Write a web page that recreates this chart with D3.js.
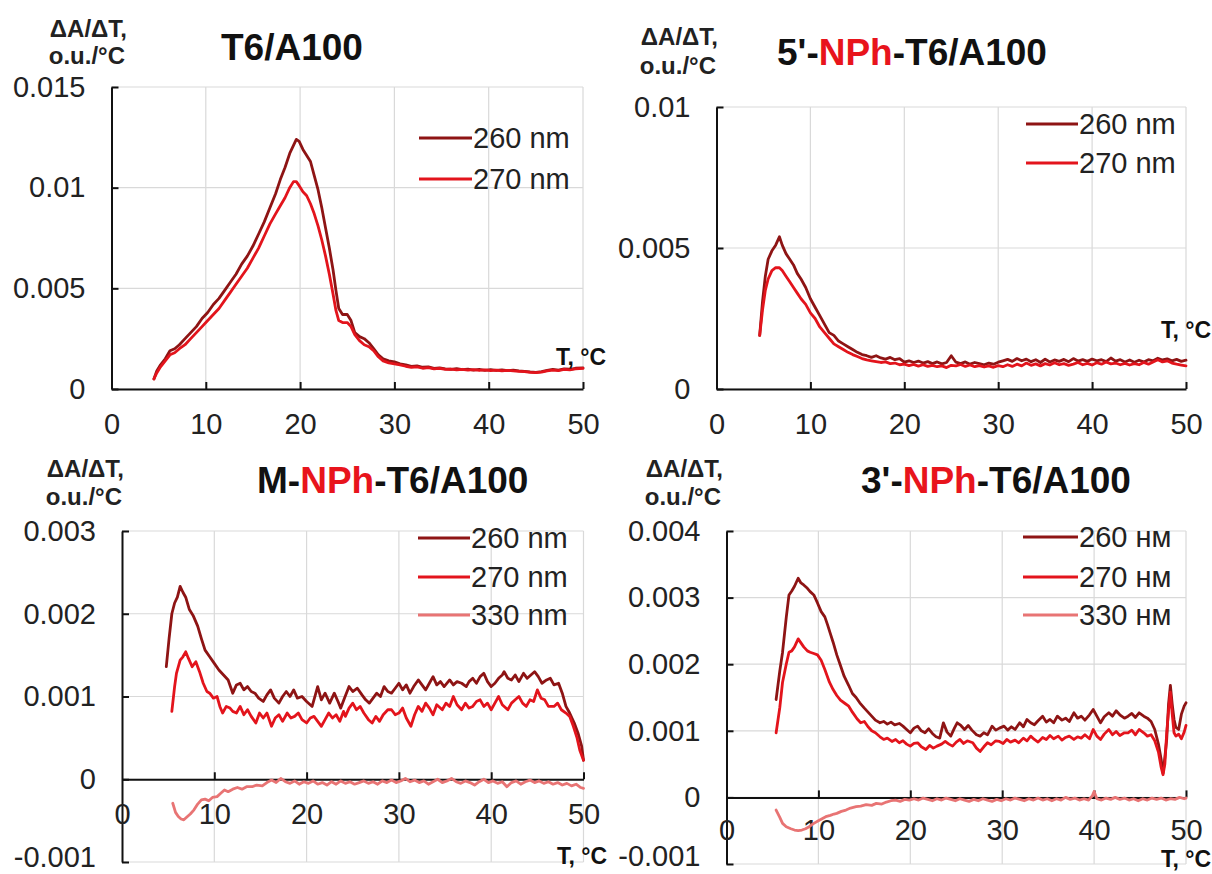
<!DOCTYPE html>
<html><head><meta charset="utf-8">
<script src="https://cdn.jsdelivr.net/npm/d3@7"></script>
<style>body{margin:0;background:#fff}svg{display:block}text{font-family:"Liberation Sans",Arial,sans-serif}</style>
</head><body>
<script>
// ---------- DATA ----------
const xTicks = [0, 10, 20, 30, 40, 50];
const xTickLabels = ["0", "10", "20", "30", "40", "50"];

const p1YTicks = [0, 0.005, 0.01, 0.015];
const p1YTickLabels = ["0", "0.005", "0.01", "0.015"];
const p2YTicks = [0, 0.005, 0.01];
const p2YTickLabels = ["0", "0.005", "0.01"];
const p3YTicks = [-0.001, 0, 0.001, 0.002, 0.003];
const p3YTickLabels = ["-0.001", "0", "0.001", "0.002", "0.003"];
const p4YTicks = [-0.001, 0, 0.001, 0.002, 0.003, 0.004];
const p4YTickLabels = ["-0.001", "0", "0.001", "0.002", "0.003", "0.004"];

const legendNm = ["260 nm", "270 nm", "330 nm"];
const legendNmRu = ["260 нм", "270 нм", "330 нм"];

const p1_260 = [[4.5,0.0005],[4.8,0.0009],[5.2,0.0012],[5.7,0.0015],[6.2,0.0019],[6.7,0.0020],[7.2,0.0022],[7.8,0.0025],[8.4,0.0028],[9.0,0.0031],[9.6,0.0035],[10.2,0.0038],[10.8,0.0042],[11.4,0.0045],[12.0,0.0049],[12.6,0.0053],[13.2,0.0057],[13.8,0.0062],[14.4,0.0066],[15.0,0.0071],[15.6,0.0077],[16.2,0.0083],[16.8,0.0090],[17.4,0.0097],[17.9,0.0104],[18.4,0.0110],[18.9,0.0117],[19.3,0.0121],[19.6,0.0124],[19.9,0.0123],[20.3,0.0119],[20.7,0.0116],[21.1,0.0113],[21.5,0.0106],[21.9,0.0099],[22.3,0.0090],[22.7,0.0080],[23.1,0.0070],[23.5,0.0059],[23.8,0.0049],[24.1,0.0040],[24.5,0.0037],[25.0,0.0037],[25.4,0.0034],[25.8,0.0028],[26.3,0.0026],[26.8,0.0025],[27.3,0.0023],[27.8,0.0020],[28.3,0.0017],[28.8,0.0015],[29.4,0.0014],[30,0.00135],[30.6,0.00125],[31.2,0.0012],[31.8,0.00112],[32.4,0.00115],[33,0.00108],[33.6,0.0011],[34.2,0.00102],[34.8,0.00105],[35.4,0.001],[36,0.00098],[36.6,0.00101],[37.2,0.00096],[37.8,0.00099],[38.4,0.00094],[39,0.00097],[39.6,0.00093],[40.2,0.00096],[40.8,0.00092],[41.4,0.00095],[42,0.00091],[42.6,0.00094],[43.2,0.0009],[43.8,0.00088],[44.4,0.00085],[45,0.00083],[45.6,0.00086],[46.2,0.00092],[46.8,0.00097],[47.4,0.00094],[48,0.001],[48.6,0.00098],[49.2,0.00103],[50,0.00105]];
const p1_270 = [[4.5,0.0005],[4.8,0.0008],[5.2,0.0011],[5.7,0.0014],[6.2,0.0017],[6.7,0.0018],[7.2,0.0020],[7.8,0.0022],[8.4,0.0025],[9.0,0.0028],[9.6,0.0031],[10.2,0.0034],[10.8,0.0037],[11.4,0.0040],[12.0,0.0044],[12.6,0.0048],[13.2,0.0052],[13.8,0.0056],[14.4,0.0060],[15.0,0.0065],[15.6,0.0070],[16.2,0.0076],[16.8,0.0082],[17.4,0.0087],[17.9,0.0091],[18.4,0.0095],[18.9,0.0100],[19.3,0.0103],[19.6,0.0103],[19.9,0.0101],[20.3,0.0098],[20.7,0.0096],[21.1,0.0092],[21.5,0.0087],[21.9,0.0081],[22.3,0.0074],[22.7,0.0066],[23.1,0.0057],[23.5,0.0047],[23.8,0.0039],[24.1,0.0034],[24.5,0.0033],[25.0,0.0033],[25.4,0.0031],[25.8,0.0027],[26.3,0.0024],[26.8,0.0022],[27.3,0.0021],[27.8,0.0019],[28.3,0.0016],[28.8,0.0014],[29.4,0.0013],[30,0.00125],[30.6,0.0012],[31.2,0.00113],[31.8,0.00108],[32.4,0.0011],[33,0.00103],[33.6,0.00106],[34.2,0.001],[34.8,0.00102],[35.4,0.00097],[36,0.00099],[36.6,0.00095],[37.2,0.00098],[37.8,0.00094],[38.4,0.00096],[39,0.00092],[39.6,0.00095],[40.2,0.00091],[40.8,0.00094],[41.4,0.0009],[42,0.00093],[42.6,0.0009],[43.2,0.00088],[43.8,0.00086],[44.4,0.00083],[45,0.00081],[45.6,0.00084],[46.2,0.0009],[46.8,0.00094],[47.4,0.00091],[48,0.00097],[48.6,0.00095],[49.2,0.001],[50,0.00102]];

const p2_260 = [[4.6,0.0019],[4.9,0.0031],[5.2,0.0040],[5.5,0.0046],[5.9,0.0049],[6.3,0.0051],[6.7,0.0054],[7.0,0.0051],[7.4,0.0048],[7.8,0.0046],[8.2,0.0044],[8.6,0.0041],[9.0,0.0039],[9.5,0.0036],[10.0,0.0032],[10.5,0.0029],[11.0,0.0026],[11.5,0.0023],[12.0,0.0020],[12.5,0.0019],[13.0,0.0017],[13.5,0.0016],[14.0,0.0015],[14.5,0.0014],[15.0,0.0013],[15.5,0.00122],[16.0,0.00118],[16.5,0.00112],[17.0,0.00118],[17.5,0.0011],[18.0,0.00106],[18.5,0.00112],[19.0,0.00104],[19.5,0.00108],[20.0,0.00095],[20.5,0.001],[21.0,0.00094],[21.5,0.00099],[22.0,0.00092],[22.5,0.00097],[23.0,0.0009],[23.5,0.00096],[24.0,0.00089],[24.5,0.00094],[25.0,0.00118],[25.5,0.00095],[26.0,0.0009],[26.5,0.00096],[27.0,0.00088],[27.5,0.00094],[28.0,0.0009],[28.5,0.00086],[29.0,0.00092],[29.5,0.00088],[30.0,0.00095],[30.5,0.001],[31.0,0.00105],[31.5,0.00098],[32.0,0.00108],[32.5,0.001],[33.0,0.00106],[33.5,0.00097],[34.0,0.00104],[34.5,0.00094],[35.0,0.00106],[35.5,0.00096],[36.0,0.00103],[36.5,0.00098],[37.0,0.00105],[37.5,0.00097],[38.0,0.00108],[38.5,0.00099],[39.0,0.00104],[39.5,0.00098],[40.0,0.00106],[40.5,0.001],[41.0,0.00104],[41.5,0.00097],[42.0,0.0011],[42.5,0.00099],[43.0,0.00104],[43.5,0.00096],[44.0,0.00103],[44.5,0.00095],[45.0,0.00102],[45.5,0.00096],[46.0,0.00104],[46.5,0.001],[47.0,0.00109],[47.5,0.00103],[48.0,0.00107],[48.5,0.001],[49.0,0.00105],[49.5,0.00098],[50.0,0.00102]];
const p2_270 = [[4.6,0.0019],[4.9,0.0028],[5.2,0.0035],[5.5,0.0039],[5.9,0.0042],[6.3,0.0043],[6.7,0.0043],[7.0,0.0042],[7.4,0.0040],[7.8,0.0038],[8.2,0.0036],[8.6,0.0034],[9.0,0.0032],[9.5,0.0030],[10.0,0.0027],[10.5,0.0025],[11.0,0.0022],[11.5,0.0020],[12.0,0.0018],[12.5,0.0016],[13.0,0.0015],[13.5,0.0014],[14.0,0.0013],[14.5,0.00122],[15.0,0.00115],[15.5,0.00108],[16.0,0.00103],[16.5,0.001],[17.0,0.00097],[17.5,0.00094],[18.0,0.00096],[18.5,0.0009],[19.0,0.00092],[19.5,0.00086],[20.0,0.00088],[20.5,0.00083],[21.0,0.00087],[21.5,0.00081],[22.0,0.00086],[22.5,0.0008],[23.0,0.00084],[23.5,0.00079],[24.0,0.00082],[24.5,0.00076],[25.0,0.00084],[25.5,0.00082],[26.0,0.00087],[26.5,0.0008],[27.0,0.00085],[27.5,0.00079],[28.0,0.00083],[28.5,0.00078],[29.0,0.00082],[29.5,0.00077],[30.0,0.00083],[30.5,0.00079],[31.0,0.00086],[31.5,0.0008],[32.0,0.00088],[32.5,0.00082],[33.0,0.00092],[33.5,0.00084],[34.0,0.00089],[34.5,0.00082],[35.0,0.0009],[35.5,0.00085],[36.0,0.00093],[36.5,0.00086],[37.0,0.0009],[37.5,0.00084],[38.0,0.00088],[38.5,0.00094],[39.0,0.00086],[39.5,0.00091],[40.0,0.00085],[40.5,0.00093],[41.0,0.00088],[41.5,0.00096],[42.0,0.00089],[42.5,0.00092],[43.0,0.00086],[43.5,0.00091],[44.0,0.00085],[44.5,0.0009],[45.0,0.00086],[45.5,0.00094],[46.0,0.00088],[46.5,0.00096],[47.0,0.00104],[47.5,0.00096],[48.0,0.001],[48.5,0.00092],[49.0,0.00088],[49.5,0.00085],[50.0,0.00082]];

const p3_260 = [[4.8,0.00136],[5.1,0.0017],[5.4,0.002],[5.7,0.00213],[6.0,0.0022],[6.3,0.00233],[6.6,0.00226],[6.9,0.0022],[7.3,0.00205],[7.7,0.00198],[8.2,0.00185],[8.6,0.0017],[9.0,0.00156],[9.5,0.00148],[10.0,0.0014],[10.5,0.00132],[11.0,0.00126],[11.5,0.0012],[12.0,0.00104],[12.4,0.00114],[12.8,0.00116],[13.2,0.00108],[13.6,0.00112],[14.0,0.00106],[14.4,0.00104],[14.8,0.00098],[15.3,0.00094],[15.7,0.00102],[16.1,0.00108],[16.5,0.00098],[17.0,0.00092],[17.4,0.001],[17.8,0.00106],[18.2,0.001],[18.6,0.00108],[19.0,0.00098],[19.5,0.001],[20.0,0.00094],[20.6,0.00088],[21.2,0.00112],[21.6,0.00096],[22.0,0.00104],[22.5,0.00092],[23.0,0.00104],[23.4,0.00094],[23.7,0.00086],[24.1,0.00098],[24.6,0.00112],[25.0,0.00106],[25.5,0.0011],[26.0,0.00102],[26.4,0.00096],[26.8,0.00092],[27.2,0.00098],[27.6,0.00104],[28.0,0.001],[28.4,0.00112],[28.8,0.00106],[29.2,0.00104],[29.6,0.0011],[30.0,0.00116],[30.4,0.00108],[30.8,0.00114],[31.2,0.00104],[31.6,0.00112],[32.1,0.0012],[32.5,0.00114],[32.9,0.00108],[33.3,0.00116],[33.7,0.00124],[34.1,0.00114],[34.5,0.00118],[34.9,0.00112],[35.5,0.0012],[35.9,0.00114],[36.3,0.00118],[36.8,0.00116],[37.3,0.00112],[37.6,0.00118],[38.0,0.00122],[38.4,0.00116],[38.8,0.00124],[39.2,0.00128],[39.6,0.00118],[40.0,0.00112],[40.4,0.00116],[40.8,0.00122],[41.2,0.00126],[41.4,0.0013],[41.8,0.00122],[42.2,0.0012],[42.6,0.00126],[43.0,0.00118],[43.5,0.00128],[43.9,0.00122],[44.3,0.00126],[44.7,0.0013],[45.1,0.00124],[45.5,0.00116],[46.0,0.0012],[46.4,0.00122],[46.8,0.00114],[47.3,0.00116],[47.7,0.00104],[48.1,0.00088],[48.5,0.0008],[49.0,0.00068],[49.4,0.00056],[49.8,0.0004],[50.0,0.00023]];
const p3_270 = [[5.4,0.00082],[5.7,0.00112],[5.9,0.00128],[6.3,0.00144],[6.6,0.00148],[6.9,0.00154],[7.2,0.00146],[7.6,0.00136],[8.0,0.00142],[8.4,0.0013],[8.8,0.00116],[9.2,0.00106],[9.5,0.00104],[9.9,0.00098],[10.3,0.001],[10.6,0.00088],[10.9,0.0008],[11.3,0.00088],[11.7,0.00086],[12.0,0.00082],[12.4,0.0008],[12.8,0.00088],[13.2,0.00078],[13.6,0.00084],[14.0,0.00076],[14.5,0.00068],[14.9,0.0008],[15.3,0.00074],[15.7,0.0008],[16.2,0.00064],[16.6,0.00074],[17.0,0.00078],[17.4,0.0007],[17.9,0.0008],[18.3,0.00074],[18.7,0.00076],[19.1,0.0008],[19.5,0.00072],[20.0,0.00068],[20.4,0.00074],[20.8,0.00076],[21.2,0.0007],[21.6,0.00064],[22.0,0.00072],[22.4,0.0008],[22.8,0.00074],[23.2,0.00078],[23.6,0.0007],[24.0,0.00082],[24.2,0.00076],[24.6,0.00086],[25.0,0.00092],[25.4,0.00084],[25.8,0.00088],[26.2,0.0008],[26.7,0.00072],[27.1,0.00068],[27.5,0.00076],[27.9,0.0007],[28.3,0.00078],[28.8,0.00084],[29.2,0.00084],[29.6,0.00078],[30.0,0.0008],[30.4,0.00086],[30.8,0.00074],[31.3,0.00064],[31.7,0.00078],[32.1,0.00088],[32.5,0.00082],[32.9,0.00092],[33.3,0.00086],[33.7,0.00078],[34.1,0.0009],[34.7,0.00084],[35.1,0.00092],[35.5,0.00088],[35.9,0.001],[36.3,0.0009],[36.8,0.00084],[37.2,0.00092],[37.6,0.00086],[38.0,0.00088],[38.4,0.00094],[38.8,0.00096],[39.2,0.00088],[39.6,0.00092],[40.0,0.00084],[40.4,0.00092],[40.8,0.001],[41.2,0.0009],[41.8,0.00084],[42.2,0.00092],[42.6,0.00096],[43.0,0.001],[43.4,0.00092],[43.8,0.00088],[44.2,0.00096],[44.6,0.00094],[45.0,0.00108],[45.4,0.00098],[45.8,0.00096],[46.2,0.00088],[46.8,0.00088],[47.2,0.00092],[47.6,0.00084],[48.1,0.0008],[48.5,0.00076],[48.9,0.00064],[49.3,0.0005],[49.6,0.00035],[50.0,0.00023]];
const p3_330 = [[5.5,-0.00029],[5.8,-0.0004],[6.1,-0.00045],[6.4,-0.00048],[6.7,-0.00049],[7.0,-0.00046],[7.4,-0.00042],[7.8,-0.00037],[8.2,-0.0003],[8.6,-0.00025],[9.0,-0.00024],[9.4,-0.00026],[9.8,-0.00022],[10.3,-0.00021],[10.7,-0.00017],[11.1,-0.00013],[11.5,-0.00015],[12.0,-0.00012],[12.5,-0.0001],[13.0,-0.00012],[13.5,-0.00009],[14.1,-0.00009],[14.6,-0.00007],[15.2,-0.00008],[15.7,-0.00004],[16.2,-0.00001],[16.7,-0.00004],[17.2,0.00001],[17.7,-0.00003],[18.2,-0.00005],[18.7,-0.00002],[19.2,-0.00006],[19.7,-0.00003],[20.2,-0.00005],[20.7,-0.00002],[21.2,-0.00006],[21.7,-0.00004],[22.2,-0.00007],[22.7,-0.00003],[23.2,-0.00006],[23.7,-0.00002],[24.2,-0.00005],[24.7,-0.00003],[25.2,-0.00006],[25.7,-0.00004],[26.2,-0.00002],[26.7,-0.00005],[27.2,-0.00003],[27.7,-0.00006],[28.2,-0.00002],[28.7,-0.00004],[29.2,-0.00001],[29.7,-0.00004],[30.2,-0.00002],[30.7,0.00001],[31.2,-0.00003],[31.7,-0.00001],[32.2,-0.00004],[32.7,-0.00002],[33.2,-0.00006],[33.7,-0.00003],[34.2,0.0],[34.7,-0.00004],[35.2,-0.00002],[35.7,0.00001],[36.2,-0.00003],[36.7,-0.00005],[37.2,-0.00002],[37.7,-0.00004],[38.2,-0.00007],[38.7,-0.00003],[39.2,0.0],[39.7,-0.00004],[40.2,-0.00002],[40.7,-0.00005],[41.2,-0.00003],[41.7,-0.00009],[42.2,-0.00004],[42.7,-0.00002],[43.2,-0.00006],[43.7,-0.00003],[44.2,-0.00001],[44.7,-0.00004],[45.2,-0.00002],[45.7,-0.00005],[46.2,-0.00003],[46.7,-0.00006],[47.2,-0.00004],[47.7,-0.00007],[48.2,-0.00005],[48.7,-0.00008],[49.2,-0.00006],[49.7,-0.0001],[50.0,-0.00011]];

const p4_260 = [[5.4,0.00147],[5.8,0.0019],[6.1,0.00218],[6.5,0.0027],[6.8,0.00304],[7.1,0.0031],[7.4,0.00317],[7.8,0.00329],[8.1,0.00322],[8.4,0.00319],[8.8,0.00314],[9.1,0.00309],[9.5,0.00304],[9.9,0.00292],[10.3,0.00279],[10.7,0.00271],[11.0,0.00259],[11.3,0.00246],[11.6,0.00233],[12.0,0.00214],[12.4,0.00198],[12.8,0.00182],[13.3,0.00168],[13.7,0.00156],[14.1,0.0015],[14.5,0.00142],[15.0,0.00134],[15.4,0.00128],[15.8,0.00122],[16.2,0.00116],[16.7,0.00112],[17.1,0.00114],[17.5,0.0011],[17.9,0.00113],[18.3,0.00109],[18.8,0.00111],[19.2,0.00107],[19.6,0.00102],[20.0,0.00097],[20.4,0.00104],[20.8,0.00107],[21.2,0.001],[21.6,0.00097],[22.0,0.00103],[22.4,0.00096],[22.8,0.00091],[23.2,0.00089],[23.6,0.00112],[24.0,0.00098],[24.4,0.00092],[24.8,0.00104],[25.1,0.00112],[25.5,0.00108],[25.9,0.00102],[26.3,0.00108],[26.7,0.00101],[27.2,0.00094],[27.6,0.00092],[28.0,0.00097],[28.4,0.00094],[28.9,0.00107],[29.3,0.00101],[29.7,0.00104],[30.2,0.00107],[30.6,0.00101],[31.0,0.00106],[31.4,0.00102],[31.9,0.00112],[32.3,0.00106],[32.7,0.00117],[33.1,0.00112],[33.5,0.00109],[33.9,0.00115],[34.4,0.00122],[34.8,0.00113],[35.2,0.00117],[35.6,0.00112],[36.0,0.00122],[36.5,0.00116],[36.9,0.00119],[37.3,0.00114],[37.8,0.00127],[38.2,0.00119],[38.6,0.00122],[39.0,0.00116],[39.5,0.00124],[39.9,0.00132],[40.3,0.00122],[40.7,0.00112],[41.1,0.00121],[41.6,0.00127],[42.0,0.00122],[42.4,0.0013],[42.8,0.00124],[43.3,0.00119],[43.7,0.00122],[44.1,0.00126],[44.5,0.0012],[44.9,0.00127],[45.4,0.00122],[45.8,0.00119],[46.2,0.00114],[46.6,0.00102],[47.0,0.0008],[47.3,0.00057],[47.5,0.00036],[47.7,0.0006],[47.9,0.00087],[48.1,0.0014],[48.3,0.00168],[48.5,0.0014],[48.7,0.00117],[48.9,0.00105],[49.2,0.00102],[49.5,0.00125],[49.8,0.00137],[50.0,0.00142]];
const p4_270 = [[5.4,0.00097],[5.8,0.00135],[6.1,0.00173],[6.5,0.002],[6.8,0.00218],[7.1,0.0022],[7.4,0.00226],[7.8,0.00238],[8.1,0.00232],[8.4,0.00226],[8.8,0.0022],[9.1,0.00218],[9.5,0.00216],[9.9,0.00214],[10.3,0.00206],[10.7,0.00192],[11.2,0.00173],[11.6,0.00162],[12.0,0.00153],[12.4,0.00146],[12.9,0.00141],[13.3,0.00137],[13.7,0.00128],[14.2,0.00118],[14.6,0.00112],[15.0,0.00114],[15.4,0.00106],[15.8,0.001],[16.2,0.00097],[16.7,0.00091],[17.1,0.00087],[17.5,0.00089],[18.0,0.00084],[18.4,0.00087],[18.8,0.00082],[19.2,0.00085],[19.6,0.0008],[20.0,0.00077],[20.4,0.00081],[20.8,0.00082],[21.2,0.00076],[21.7,0.00072],[22.1,0.00078],[22.5,0.00074],[22.9,0.00077],[23.4,0.0008],[23.8,0.00084],[24.2,0.0008],[24.6,0.00077],[25.0,0.00083],[25.4,0.00087],[25.8,0.00081],[26.2,0.00085],[26.8,0.00082],[27.2,0.00074],[27.6,0.00069],[28.0,0.00076],[28.4,0.00082],[28.8,0.00079],[29.3,0.00085],[29.7,0.00084],[30.1,0.00081],[30.5,0.00087],[30.9,0.00083],[31.4,0.00086],[31.8,0.00082],[32.3,0.00089],[32.7,0.00085],[33.1,0.00092],[33.5,0.00087],[33.9,0.00083],[34.4,0.0009],[34.8,0.00087],[35.2,0.00093],[35.6,0.00088],[36.1,0.00092],[36.5,0.00086],[36.9,0.0009],[37.3,0.00092],[37.8,0.00087],[38.2,0.00091],[38.6,0.00089],[39.0,0.00094],[39.5,0.00088],[39.9,0.00102],[40.3,0.00092],[40.7,0.00087],[41.1,0.00095],[41.6,0.00102],[42.0,0.00094],[42.4,0.00099],[42.8,0.00093],[43.3,0.00097],[43.7,0.00097],[44.1,0.00101],[44.5,0.00094],[44.9,0.00102],[45.4,0.00097],[45.8,0.00092],[46.2,0.00094],[46.6,0.00085],[47.0,0.00068],[47.3,0.00045],[47.5,0.00034],[47.7,0.0005],[47.9,0.00097],[48.1,0.0013],[48.3,0.00158],[48.5,0.00125],[48.7,0.00097],[48.9,0.00092],[49.2,0.00095],[49.5,0.00088],[49.8,0.00098],[50.0,0.00108]];
const p4_330 = [[5.4,-0.00019],[5.8,-0.0003],[6.1,-0.00039],[6.5,-0.00044],[7.0,-0.00047],[7.4,-0.00049],[7.8,-0.0005],[8.2,-0.00049],[8.6,-0.00047],[9.0,-0.00044],[9.5,-0.00039],[10.0,-0.00035],[10.4,-0.00032],[10.8,-0.00029],[11.3,-0.00027],[11.7,-0.00025],[12.0,-0.00024],[12.5,-0.00021],[13.0,-0.00019],[13.5,-0.00016],[14.1,-0.00014],[14.6,-0.00013],[15.2,-0.00011],[15.8,-0.00012],[16.3,-0.00009],[16.9,-0.0001],[17.4,-0.00007],[17.9,-0.00005],[18.4,-0.00004],[18.9,-0.00006],[19.4,-0.00003],[19.9,-0.00004],[20.4,-0.00002],[20.9,-0.00004],[21.4,-0.00001],[21.9,-0.00003],[22.4,-0.00005],[22.9,-0.00002],[23.4,-0.00004],[23.9,-0.00001],[24.4,-0.00003],[24.9,-0.00005],[25.4,-0.00002],[25.9,-0.00004],[26.4,-0.00006],[26.9,-0.00003],[27.4,-0.00005],[27.9,-0.00002],[28.4,-0.00004],[28.9,-0.00006],[29.4,-0.00003],[29.9,-0.00005],[30.4,-0.00002],[30.9,-0.00004],[31.4,-0.00001],[31.9,-0.00003],[32.4,-0.00005],[32.9,-0.00002],[33.4,-0.00004],[33.9,-0.00001],[34.4,-0.00004],[34.9,-0.00002],[35.4,-0.00005],[35.9,-0.00002],[36.4,-0.00004],[36.9,0.0],[37.4,-0.00003],[37.9,-0.00001],[38.4,-0.00004],[38.9,-0.00002],[39.4,-0.00004],[39.8,0.00002],[40.0,0.00009],[40.3,-0.00002],[40.8,-0.00004],[41.3,-0.00001],[41.8,-0.00003],[42.3,0.0],[42.8,-0.00003],[43.3,-0.00001],[43.8,-0.00004],[44.3,-0.00002],[44.8,-0.00005],[45.3,-0.00002],[45.8,-0.00004],[46.3,-0.00001],[46.8,-0.00003],[47.3,-0.00001],[47.8,-0.00004],[48.3,-0.00002],[48.8,-0.00003],[49.3,0.0],[49.8,-0.00002],[50.0,-0.00001]];

// ---------- STYLE / LAYOUT ----------
const C260 = "#8e1414", C270 = "#e3141c", C330 = "#e87474";
const FONT = '"Liberation Sans", Arial, sans-serif';

const panels = [
  { box:{l:111.5,r:583,t:87,b:389}, yDom:[0,0.015], yT:p1YTicks, yL:p1YTickLabels, xAxisAt:0, xPad:24, lowDy:"0.32em",
    series:[[p1_260,C260],[p1_270,C270]], legend:{x1:419,x2:472,ys:[138,179],labels:legendNm.slice(0,2)},
    title:{x:221,y:60,parts:[["T6/A100","#111"]]},
    ytitle:{x:127,y1:37,y2:64}, tlab:{x:606,y:365} },
  { box:{l:716.5,r:1186,t:107,b:389}, yDom:[0,0.01], yT:p2YTicks, yL:p2YTickLabels, xAxisAt:0, xPad:24, lowDy:"0.32em",
    series:[[p2_260,C260],[p2_270,C270]], legend:{x1:1026,x2:1078,ys:[124,163],labels:legendNm.slice(0,2)},
    title:{x:777,y:65,parts:[["5'-","#111"],["NPh","#e8141c"],["-T6/A100","#111"]]},
    ytitle:{x:718,y1:45,y2:74}, tlab:{x:1211,y:338} },
  { box:{l:122,r:583.5,t:531,b:862}, yDom:[-0.001,0.003], yT:p3YTicks, yL:p3YTickLabels, xAxisAt:0, xPad:24, lowDy:"0.15em",
    series:[[p3_260,C260],[p3_270,C270],[p3_330,C330]], legend:{x1:418,x2:470,ys:[538,577,615],labels:legendNm},
    title:{x:257,y:493,parts:[["M-","#111"],["NPh","#e8141c"],["-T6/A100","#111"]]},
    ytitle:{x:124,y1:477,y2:505}, tlab:{x:607,y:864} },
  { box:{l:726.5,r:1186,t:531,b:864}, yDom:[-0.001,0.004], yT:p4YTicks, yL:p4YTickLabels, xAxisAt:0, xPad:22, lowDy:"0.05em",
    series:[[p4_260,C260],[p4_270,C270],[p4_330,C330]], legend:{x1:1023,x2:1078,ys:[537,577,615],labels:legendNmRu},
    title:{x:861,y:493,parts:[["3'-","#111"],["NPh","#e8141c"],["-T6/A100","#111"]]},
    ytitle:{x:723,y1:477,y2:505}, tlab:{x:1211,y:867} }
];

const svg = d3.select("body").append("svg").attr("width",1212).attr("height",874);

panels.forEach(p => {
  const g = svg.append("g");
  const x = d3.scaleLinear().domain([0,50]).range([p.box.l,p.box.r]);
  const y = d3.scaleLinear().domain(p.yDom).range([p.box.b,p.box.t]);

  // grid
  g.append("g").selectAll("line").data(xTicks.filter(v=>v>0)).join("line")
    .attr("x1",d=>x(d)).attr("x2",d=>x(d)).attr("y1",p.box.t).attr("y2",p.box.b)
    .attr("stroke","#d9d9d9").attr("stroke-width",1.2);
  g.append("g").selectAll("line").data(p.yT).join("line")
    .attr("x1",p.box.l).attr("x2",p.box.r).attr("y1",d=>y(d)).attr("y2",d=>y(d))
    .attr("stroke","#d9d9d9").attr("stroke-width",1.2);

  // y axis
  const labMapY = new Map(p.yT.map((v,i)=>[v,p.yL[i]]));
  const ya = g.append("g").attr("transform",`translate(${p.box.l},0)`)
    .call(d3.axisLeft(y).tickValues(p.yT).tickFormat(d=>labMapY.get(d)).tickSizeInner(-7).tickSizeOuter(0).tickPadding(26));
  ya.select(".domain").attr("stroke","#111").attr("stroke-width",2);
  ya.selectAll(".tick line").attr("stroke","#111").attr("stroke-width",2);
  ya.selectAll(".tick text").attr("font-family",FONT).attr("font-size",29).attr("fill","#222")
    .attr("dy",d=>d===p.yDom[0] && d<0 ? p.lowDy : "0.32em");

  // x axis
  const labMapX = new Map(xTicks.map((v,i)=>[v,xTickLabels[i]]));
  const xa = g.append("g").attr("transform",`translate(0,${y(p.xAxisAt)})`)
    .call(d3.axisBottom(x).tickValues(xTicks).tickFormat(d=>labMapX.get(d)).tickSizeInner(-7).tickSizeOuter(0).tickPadding(p.xPad));
  xa.select(".domain").attr("stroke","#111").attr("stroke-width",2);
  xa.selectAll(".tick line").attr("stroke","#111").attr("stroke-width",2).filter(d=>d===0).remove();
  xa.selectAll(".tick text").attr("font-family",FONT).attr("font-size",29).attr("fill","#222");

  // series
  const line = d3.line().x(d=>x(d[0])).y(d=>y(d[1]));
  p.series.forEach(([data,col]) => {
    g.append("path").datum(data).attr("d",line).attr("fill","none")
      .attr("stroke",col).attr("stroke-width",2.8).attr("stroke-linejoin","round").attr("stroke-linecap","round");
  });

  // legend
  const cols = [C260,C270,C330];
  p.legend.labels.forEach((lab,i) => {
    const yy = p.legend.ys[i];
    g.append("line").attr("x1",p.legend.x1).attr("x2",p.legend.x2).attr("y1",yy).attr("y2",yy)
      .attr("stroke",cols[i]).attr("stroke-width",3.2);
    g.append("text").attr("x",p.legend.x2+1).attr("y",yy).attr("dy","0.35em")
      .attr("font-family",FONT).attr("font-size",29).attr("fill","#222").text(lab);
  });

  // title
  const tt = g.append("text").attr("x",p.title.x).attr("y",p.title.y)
    .attr("font-family",FONT).attr("font-size",37).attr("font-weight","bold");
  p.title.parts.forEach(([s,c]) => tt.append("tspan").attr("fill",c).text(s));

  // y title
  g.append("text").attr("x",p.ytitle.x).attr("y",p.ytitle.y1).attr("text-anchor","end")
    .attr("font-family",FONT).attr("font-size",24).attr("font-weight","bold").attr("fill","#222").text("ΔA/ΔT,");
  g.append("text").attr("x",p.ytitle.x-2).attr("y",p.ytitle.y2).attr("text-anchor","end")
    .attr("font-family",FONT).attr("font-size",24).attr("font-weight","bold").attr("fill","#222").text("o.u./°C");

  // T label
  g.append("text").attr("x",p.tlab.x).attr("y",p.tlab.y).attr("text-anchor","end")
    .attr("font-family",FONT).attr("font-size",23).attr("font-weight","bold").attr("fill","#111").text("T, °C");
});
</script>
</body></html>
